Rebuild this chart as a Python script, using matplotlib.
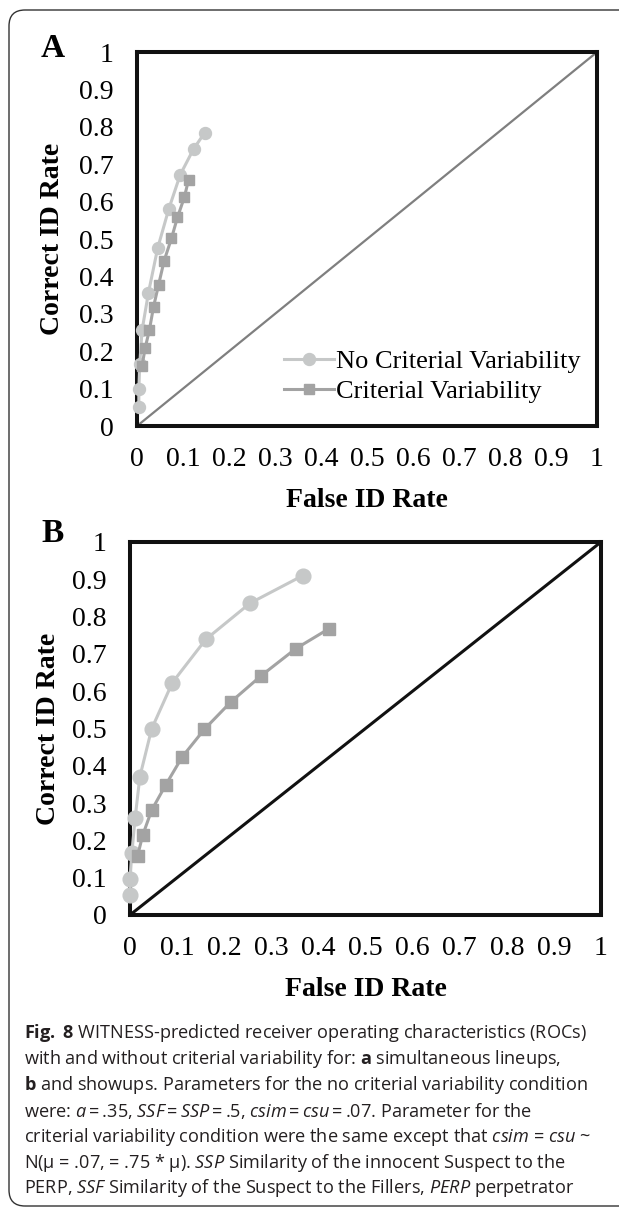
import matplotlib
matplotlib.use("Agg")
import matplotlib.pyplot as plt
import matplotlib.patches as mpatches
from matplotlib.transforms import IdentityTransform

# ROC points
# panel A: simultaneous lineups
a_nocv_x = [0.004, 0.004, 0.006, 0.011, 0.025, 0.045, 0.069, 0.094, 0.123, 0.147]
a_nocv_y = [0.051, 0.098, 0.165, 0.256, 0.357, 0.476, 0.580, 0.672, 0.741, 0.784]
a_cv_x = [0.011, 0.018, 0.027, 0.036, 0.047, 0.059, 0.075, 0.088, 0.103, 0.112]
a_cv_y = [0.161, 0.210, 0.257, 0.319, 0.378, 0.442, 0.502, 0.558, 0.612, 0.658]

# panel B: showups
b_nocv_x = [0.0, 0.0, 0.004, 0.011, 0.021, 0.046, 0.090, 0.161, 0.255, 0.367]
b_nocv_y = [0.054, 0.097, 0.167, 0.261, 0.371, 0.499, 0.623, 0.739, 0.836, 0.910]
b_cv_x = [0.016, 0.027, 0.046, 0.076, 0.111, 0.158, 0.214, 0.279, 0.352, 0.423]
b_cv_y = [0.158, 0.214, 0.281, 0.349, 0.424, 0.498, 0.571, 0.642, 0.714, 0.768]

ticks = [0, 0.1, 0.2, 0.3, 0.4, 0.5, 0.6, 0.7, 0.8, 0.9, 1]
tick_labels = ["0", "0.1", "0.2", "0.3", "0.4", "0.5", "0.6", "0.7", "0.8", "0.9", "1"]

ts = "\u2009"  # thin space used around "=" in the parameter line
caption = [
    r"$\mathbf{Fig.}$ $\mathbf{8}$ WITNESS-predicted receiver operating characteristics (ROCs)",
    r"with and without criterial variability for: $\mathbf{a}$ simultaneous lineups,",
    r"$\mathbf{b}$ and showups. Parameters for the no criterial variability condition",
    r"were: $\mathit{a}$" + ts + "=" + ts + r".35, $\mathit{SSF}$" + ts + "=" + ts
    + r"$\mathit{SSP}$" + ts + "=" + ts + r".5, $\mathit{csim}$" + ts + "=" + ts
    + r"$\mathit{csu}$" + ts + "=" + ts + ".07. Parameter for the",
    r"criterial variability condition were the same except that $\mathit{csim}$ = $\mathit{csu}$ ~",
    r"N(μ = .07, = .75 * μ). $\mathit{SSP}$ Similarity of the innocent Suspect to the",
    r"PERP, $\mathit{SSF}$ Similarity of the Suspect to the Fillers, $\mathit{PERP}$ perpetrator",
]

plt.rcParams['font.family'] = ['Liberation Serif', 'DejaVu Serif']
plt.rcParams['mathtext.fontset'] = 'custom'
plt.rcParams['mathtext.rm'] = 'Open Sans'
plt.rcParams['mathtext.it'] = 'Open Sans:italic'
plt.rcParams['mathtext.bf'] = 'Open Sans:bold'

light = '#c6c8c8'
dark = '#a3a3a3'

fig = plt.figure(figsize=(6.19, 12.09), dpi=100)
axA = fig.add_axes([0.2213, 0.6476, 0.7431, 0.3093])
axB = fig.add_axes([0.2100, 0.2432, 0.7609, 0.3085])


def style_axis(ax, xlab_y, ylab_x):
    ax.set_xlim(0, 1)
    ax.set_ylim(0, 1)
    ax.set_xticks(ticks)
    ax.set_yticks(ticks)
    ax.set_xticklabels(tick_labels)
    ax.set_yticklabels(tick_labels)
    ax.tick_params(axis='both', length=0, labelsize=20)
    ax.tick_params(axis='x', pad=15)
    ax.tick_params(axis='y', pad=17)
    for s in ax.spines.values():
        s.set_linewidth(2.9)
        s.set_color('#111111')
    ax.set_xlabel("False ID Rate", fontsize=20, fontweight='bold', va='center')
    ax.set_ylabel("Correct ID Rate", fontsize=20, fontweight='bold', va='center')
    ax.xaxis.set_label_coords(0.5, xlab_y)
    ax.yaxis.set_label_coords(ylab_x, 0.5)


# panel A
axA.plot([0, 1], [0, 1], color='#7f7f7f', lw=1.6, zorder=2)
axA.plot(a_nocv_x, a_nocv_y, color=light, lw=2.2, marker='o', ms=8.6,
         clip_on=False, zorder=4, label="No Criterial Variability")
axA.plot(a_cv_x, a_cv_y, color=dark, lw=2.2, marker='s', ms=7.2,
         clip_on=False, zorder=4, label="Criterial Variability")
style_axis(axA, -0.198, -0.183)
axA.legend(loc='lower left', bbox_to_anchor=(0.32, 0.062), frameon=False,
           fontsize=19, borderpad=0, handlelength=1.9, handletextpad=0.05,
           labelspacing=0.25, borderaxespad=0)

# panel B
axB.plot([0, 1], [0, 1], color='#111111', lw=2.2, zorder=2)
axB.plot(b_nocv_x, b_nocv_y, color=light, lw=2.2, marker='o', ms=10.6,
         clip_on=False, zorder=4)
axB.plot(b_cv_x, b_cv_y, color=dark, lw=2.2, marker='s', ms=8.6,
         clip_on=False, zorder=4)
style_axis(axB, -0.201, -0.174)

fig.text(0.0856, 0.960, "A", fontsize=24, fontweight='bold', ha='center', va='center')
fig.text(0.0856, 0.559, "B", fontsize=24, fontweight='bold', ha='center', va='center')

# caption
line_y = [1033, 1059, 1085, 1111, 1137, 1163, 1188]
for txt, yp in zip(caption, line_y):
    fig.text(24 / 619, 1 - yp / 1209, txt, fontsize=13.1,
             family=['Open Sans', 'DejaVu Sans'],
             color='#231f20', ha='left', va='center')

# rounded frame around the whole figure
frame = mpatches.FancyBboxPatch((9, 3), 700, 1196,
                                boxstyle='round,pad=0,rounding_size=16',
                                transform=IdentityTransform(),
                                facecolor='none', edgecolor='#333333', lw=1.0)
fig.add_artist(frame)

fig.savefig("out.png", dpi=100)
